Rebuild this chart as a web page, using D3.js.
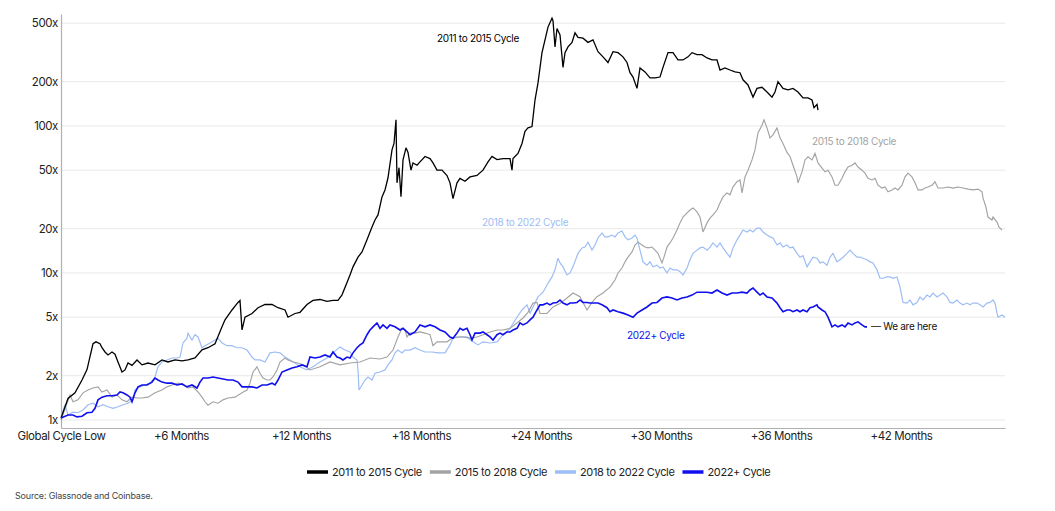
<!DOCTYPE html>
<html>
<head>
<meta charset="utf-8">
<script src="https://cdn.jsdelivr.net/npm/d3@7"></script>
<style>
  body { margin: 0; background: #fff; }
  svg { font-family: Inter, "Noto Sans", sans-serif; }
</style>
</head>
<body>
<div id="chart"></div>
<script>
var width = 1055,
    height = 511;
var margin = {top: 14, right: 50, bottom: 83, left: 61};

// months since the global cycle low, and the multiple of the low price
var yTicks = [1, 2, 5, 10, 20, 50, 100, 200, 500];
var xTicks = [0, 6, 12, 18, 24, 30, 36, 42];
var xTickLabels = ["Global Cycle Low", "+6 Months", "+12 Months", "+18 Months",
  "+24 Months", "+30 Months", "+36 Months", "+42 Months"];

var seriesNames = ["2011 to 2015 Cycle", "2015 to 2018 Cycle", "2018 to 2022 Cycle", "2022+ Cycle"];
var seriesColors = ["#000000", "#a3a3a3", "#9dbdf5", "#1010ee"];

var cycle2011 = [[0,1.03],[0.35,1.4],[0.7,1.53],[1.05,1.87],[1.3,2.2],[1.45,2.7],[1.6,3.3],[1.75,3.4],[1.95,3.3],[2.05,3.1],[2.2,2.9],[2.35,2.77],[2.55,2.9],[2.7,2.8],[2.85,2.48],[3.05,2.12],[3.2,2.19],[3.35,2.44],[3.55,2.35],[3.8,2.56],[4.05,2.37],[4.35,2.44],[4.7,2.37],[5.05,2.56],[5.35,2.48],[5.7,2.56],[6.05,2.52],[6.35,2.56],[6.7,2.64],[7.05,3.0],[7.35,3.1],[7.7,3.3],[7.85,3.7],[8.05,4.3],[8.2,4.8],[8.55,5.6],[8.85,6.3],[8.95,6.5],[9.05,4.1],[9.2,5.0],[9.55,5.3],[9.85,5.8],[10.2,6.1],[10.55,6.1],[10.85,5.8],[11.2,5.6],[11.35,5.0],[11.7,5.3],[11.95,5.4],[12.3,6.1],[12.6,6.5],[12.95,6.6],[13.3,6.4],[13.6,6.5],[13.85,6.5],[14.05,7.1],[14.3,8.6],[14.45,9.7],[14.6,11],[14.85,12.8],[15.05,13.9],[15.3,16.8],[15.55,20.5],[15.7,22.9],[15.85,24.8],[16.05,32.9],[16.2,36.7],[16.35,44.4],[16.55,68.7],[16.65,76],[16.75,110],[16.8,41],[16.9,52],[17.0,33],[17.1,58.7],[17.25,71],[17.35,66],[17.5,50],[17.6,56],[17.8,54],[17.95,57],[18.2,62],[18.45,60],[18.6,56],[18.8,50],[19.05,50],[19.3,46],[19.45,41],[19.6,32],[19.8,41],[19.95,44],[20.2,42],[20.45,45],[20.8,46],[21.1,50],[21.35,57],[21.55,62],[21.8,59],[22.1,60],[22.45,60],[22.55,50],[22.6,60],[22.85,65],[23.05,76],[23.2,92],[23.35,97],[23.55,99],[23.7,150],[23.85,196],[24.05,315],[24.2,385],[24.35,470],[24.55,540],[24.6,520],[24.7,345],[24.8,460],[24.95,415],[25.1,250],[25.2,315],[25.35,345],[25.55,370],[25.7,430],[25.85,400],[26.1,395],[26.35,370],[26.6,385],[26.85,320],[27.1,295],[27.35,270],[27.6,320],[27.85,315],[28.1,295],[28.3,270],[28.45,230],[28.6,215],[28.8,180],[28.95,248],[29.2,233],[29.45,212],[29.7,212],[29.95,215],[30.1,250],[30.35,315],[30.6,315],[30.85,281],[31.1,281],[31.35,295],[31.55,315],[31.8,305],[32.05,305],[32.3,290],[32.55,281],[32.8,281],[32.95,240],[33.2,248],[33.45,240],[33.7,233],[33.95,230],[34.1,206],[34.35,190],[34.6,157],[34.8,180],[35.05,183],[35.3,170],[35.55,157],[35.7,170],[35.85,200],[36.1,180],[36.35,176],[36.6,180],[36.85,170],[37.1,155],[37.35,155],[37.55,150],[37.65,133],[37.8,140],[37.85,128]];

var cycle2015 = [[0,1.0],[0.3,1.3],[0.45,1.48],[0.6,1.33],[0.85,1.37],[1.1,1.53],[1.35,1.6],[1.6,1.65],[1.85,1.68],[2.05,1.55],[2.3,1.6],[2.55,1.43],[2.8,1.48],[3.05,1.37],[3.3,1.33],[3.55,1.43],[3.8,1.41],[4.05,1.41],[4.35,1.43],[4.7,1.53],[5.05,1.6],[5.3,1.68],[5.55,1.73],[5.85,1.78],[6.1,1.73],[6.35,1.65],[6.6,1.68],[6.85,1.55],[7.05,1.43],[7.2,1.33],[7.35,1.26],[7.6,1.33],[7.85,1.3],[8.1,1.37],[8.35,1.41],[8.7,1.43],[9.05,1.53],[9.3,1.6],[9.45,1.78],[9.6,2.12],[9.8,2.3],[9.95,2.08],[10.1,1.93],[10.3,1.87],[10.45,1.87],[10.6,1.96],[10.8,2.19],[10.95,2.48],[11.2,2.64],[11.35,2.56],[11.6,2.48],[11.85,2.44],[12.1,2.37],[12.45,2.19],[12.95,2.3],[13.45,2.48],[13.95,2.37],[14.45,2.44],[14.95,2.48],[15.45,2.64],[15.95,2.6],[16.3,2.68],[16.6,2.99],[16.85,3.67],[17.05,4.2],[17.2,4.09],[17.3,3.67],[17.45,3.9],[17.7,3.9],[17.95,3.97],[18.2,3.9],[18.45,3.8],[18.6,3.2],[18.8,3.4],[19.05,3.4],[19.3,3.4],[19.55,3.6],[19.8,3.67],[20.1,3.67],[20.45,3.6],[20.8,3.67],[21.1,3.8],[21.45,3.97],[21.8,4.09],[22.1,4.09],[22.45,4.2],[22.8,4.57],[23.1,4.94],[23.35,5.4],[23.6,6.24],[23.8,6.3],[23.95,5.3],[24.3,5.3],[24.6,5.87],[24.95,6.2],[25.3,6.75],[25.6,7.3],[25.95,6.9],[26.1,6.3],[26.3,5.6],[26.55,6.3],[26.8,6.9],[27.1,7.3],[27.45,8.0],[27.7,8.96],[27.85,10],[28.05,10.8],[28.2,11.9],[28.35,12.8],[28.55,13.9],[28.7,15.5],[28.85,16.2],[29.05,15.5],[29.2,15],[29.35,14.8],[29.55,15],[29.7,14.3],[29.85,13.6],[30.05,11.7],[30.15,12.8],[30.3,15],[30.45,16],[30.6,17.3],[30.8,19.6],[30.95,21.9],[31.1,24],[31.3,25.6],[31.45,26.8],[31.6,27.7],[31.8,26],[31.95,24],[32.1,19],[32.3,21.9],[32.45,23.6],[32.6,24.8],[32.8,26.8],[32.95,29.9],[33.1,32.9],[33.3,35],[33.45,34],[33.6,38.5],[33.8,41.7],[33.95,42.9],[34.05,35],[34.2,45],[34.35,50],[34.55,58.7],[34.7,68.7],[34.85,89.5],[35.05,101],[35.15,110],[35.3,97],[35.45,83],[35.6,87],[35.8,97],[35.95,83],[36.1,76],[36.3,66],[36.45,62],[36.6,54],[36.8,45],[36.85,41],[37.05,48.7],[37.2,58.7],[37.35,61.6],[37.55,58.7],[37.7,65],[37.85,56],[38.05,51.7],[38.2,48.7],[38.35,50],[38.55,45],[38.7,39.5],[38.85,39.5],[39.05,44],[39.2,48.7],[39.35,52.5],[39.55,54],[39.7,56],[39.85,52.5],[40.05,50],[40.2,47.7],[40.35,44],[40.55,42.9],[40.7,44],[40.85,39.5],[41.05,37.8],[41.2,38.4],[41.35,35.6],[41.55,36.7],[41.7,37.8],[41.85,36.7],[42.05,39.5],[42.2,45],[42.35,47.7],[42.55,45],[42.7,41],[42.85,36.7],[43.05,36.7],[43.2,37.8],[43.35,38.4],[43.55,39.5],[43.7,41.7],[43.85,37.8],[44.1,37.8],[44.35,38.4],[44.6,37.8],[44.85,38.4],[45.1,37.8],[45.35,37.2],[45.6,36.7],[45.85,37.2],[46.05,35.6],[46.1,32.4],[46.25,28],[46.35,24],[46.55,22.9],[46.6,24],[46.8,22.2],[46.9,20.5],[47.05,19.6]];

var cycle2018 = [[0,1.05],[0.2,1.27],[0.35,1.08],[0.6,1.13],[0.85,1.12],[1.1,1.17],[1.35,1.27],[1.6,1.3],[1.85,1.23],[2.1,1.27],[2.35,1.23],[2.6,1.2],[2.85,1.23],[3.1,1.27],[3.35,1.3],[3.6,1.37],[3.7,1.6],[3.95,1.68],[4.2,1.73],[4.45,1.78],[4.7,1.96],[4.85,2.3],[5.05,2.48],[5.3,2.56],[5.55,2.64],[5.8,2.64],[5.95,2.68],[6.1,3.34],[6.3,3.6],[6.35,3.9],[6.55,3.5],[6.7,3.8],[6.85,3.67],[7.05,3.1],[7.2,3.2],[7.45,3.34],[7.7,3.5],[7.85,3.6],[8.05,3.34],[8.3,3.2],[8.55,3.2],[8.8,3.1],[9.05,3.1],[9.3,2.99],[9.55,2.68],[9.7,2.56],[9.95,2.56],[10.2,2.48],[10.45,2.86],[10.7,2.9],[10.95,2.86],[11.2,2.68],[11.45,2.56],[11.7,2.44],[11.95,2.3],[12.3,2.19],[12.6,2.3],[12.95,2.48],[13.3,2.64],[13.6,2.86],[13.95,3.14],[14.2,2.99],[14.45,2.9],[14.6,2.68],[14.8,2.56],[14.85,2.19],[14.9,1.6],[15.05,1.73],[15.2,1.87],[15.35,1.96],[15.55,1.87],[15.7,2.08],[15.95,2.12],[16.2,2.19],[16.35,2.37],[16.55,2.56],[16.7,2.86],[16.85,2.99],[17.05,2.86],[17.2,2.99],[17.45,2.99],[17.7,3.1],[17.95,2.99],[18.2,2.9],[18.55,2.9],[18.85,2.86],[19.2,2.86],[19.45,3.24],[19.6,3.6],[19.95,3.67],[20.3,3.67],[20.6,3.4],[20.85,3.24],[21.1,3.4],[21.45,3.34],[21.8,3.4],[22.1,3.8],[22.45,4.2],[22.8,5.0],[23.05,5.6],[23.3,6.07],[23.45,5.33],[23.6,5.87],[23.85,6.87],[24.1,7.4],[24.35,8.5],[24.55,9.4],[24.7,10.5],[24.85,12.6],[24.95,11.7],[25.1,11],[25.3,9.7],[25.45,10],[25.6,11],[25.85,13.6],[26.05,14.8],[26.2,15],[26.35,16.2],[26.55,14.3],[26.7,15.5],[26.85,17.3],[27.05,18.7],[27.2,17.6],[27.35,17.6],[27.55,18.1],[27.7,17.6],[27.85,18.7],[28.05,19.3],[28.2,17.6],[28.35,16.8],[28.55,17.3],[28.7,18.1],[28.8,17.3],[28.95,14.3],[29.1,11.9],[29.3,11.3],[29.45,11.9],[29.6,11],[29.8,11.3],[29.95,10.8],[30.1,11],[30.3,10],[30.45,10.8],[30.6,10.5],[30.8,10.5],[30.95,10.2],[31.1,9.7],[31.3,10.8],[31.45,12.3],[31.6,13.6],[31.8,14.3],[31.95,14.8],[32.1,15],[32.3,14.3],[32.45,15],[32.6,16],[32.8,15],[32.95,16],[33.1,14.8],[33.3,13.6],[33.45,12.8],[33.6,14.8],[33.8,16.8],[33.95,18.1],[34.1,19.6],[34.3,19],[34.45,19.6],[34.6,19],[34.8,20.2],[34.95,20.2],[35.1,19],[35.3,18.1],[35.45,17.6],[35.6,17.3],[35.8,15.5],[35.95,16],[36.1,15],[36.3,15.5],[36.45,14.8],[36.6,15],[36.8,13.6],[36.95,12.8],[37.1,13.1],[37.3,11],[37.45,11.9],[37.6,12.8],[37.8,12.6],[37.95,11.7],[38.1,11.9],[38.3,11.3],[38.45,12.8],[38.6,13.6],[38.8,11.9],[38.95,12.3],[39.1,12.8],[39.3,13.6],[39.45,14.3],[39.6,13.6],[39.8,12.8],[39.95,12.8],[40.1,12.6],[40.3,12.3],[40.45,11.9],[40.6,11.7],[40.8,10.5],[40.95,9.2],[41.1,9.2],[41.3,9.4],[41.45,9.4],[41.6,9.2],[41.8,9.4],[41.95,8.0],[42.1,6.3],[42.3,6.24],[42.45,6.55],[42.6,6.07],[42.8,6.3],[42.95,6.87],[43.1,6.55],[43.3,7.07],[43.45,6.87],[43.6,7.3],[43.8,6.87],[43.95,7.07],[44.1,7.3],[44.3,6.87],[44.45,6.3],[44.6,6.24],[44.8,6.55],[44.95,6.24],[45.1,6.07],[45.3,6.24],[45.45,6.07],[45.6,6.24],[45.8,6.24],[45.95,6.07],[46.1,5.87],[46.3,6.24],[46.45,6.3],[46.6,6.55],[46.7,6.24],[46.8,5.33],[46.85,5.0],[47.05,5.18],[47.2,5.0]];

var cycle2022 = [[0,1.03],[0.35,1.08],[0.6,1.08],[0.8,1.05],[1.05,1.06],[1.3,1.12],[1.55,1.13],[1.7,1.2],[1.85,1.37],[2.05,1.43],[2.3,1.46],[2.55,1.46],[2.8,1.48],[2.95,1.55],[3.1,1.53],[3.3,1.48],[3.45,1.43],[3.55,1.33],[3.7,1.53],[3.85,1.68],[4.05,1.73],[4.3,1.73],[4.55,1.81],[4.7,1.93],[4.85,1.87],[5.05,1.81],[5.3,1.78],[5.55,1.78],[5.8,1.73],[6.05,1.76],[6.3,1.68],[6.55,1.73],[6.8,1.65],[6.95,1.81],[7.1,1.93],[7.35,1.93],[7.6,1.96],[7.85,1.93],[8.1,1.9],[8.35,1.87],[8.6,1.87],[8.85,1.81],[9.05,1.68],[9.3,1.68],[9.55,1.68],[9.8,1.65],[10.05,1.73],[10.3,1.73],[10.55,1.78],[10.7,1.73],[10.85,1.87],[11.05,2.12],[11.3,2.19],[11.55,2.26],[11.8,2.3],[12.05,2.37],[12.3,2.3],[12.45,2.68],[12.7,2.64],[12.95,2.68],[13.2,2.77],[13.45,2.68],[13.6,2.9],[13.8,2.68],[13.95,2.64],[14.1,2.56],[14.3,2.68],[14.45,2.64],[14.6,2.86],[14.8,3.1],[14.95,3.24],[15.1,3.34],[15.3,3.8],[15.45,4.09],[15.6,4.3],[15.8,4.57],[15.95,4.2],[16.1,4.43],[16.3,4.2],[16.45,4.43],[16.7,4.3],[16.95,4.09],[17.1,4.2],[17.3,3.97],[17.45,3.8],[17.7,3.97],[17.95,4.43],[18.2,4.3],[18.45,4.43],[18.7,4.3],[18.95,4.09],[19.2,3.97],[19.45,3.67],[19.6,3.6],[19.8,3.9],[19.95,4.2],[20.1,4.09],[20.3,4.2],[20.45,3.8],[20.55,3.5],[20.7,3.9],[20.95,3.9],[21.1,3.97],[21.3,3.8],[21.45,3.67],[21.6,3.5],[21.8,3.8],[21.95,3.9],[22.1,3.8],[22.3,3.97],[22.45,3.97],[22.6,4.09],[22.8,4.2],[22.95,4.57],[23.1,4.43],[23.3,4.57],[23.45,4.79],[23.6,5.0],[23.8,5.6],[23.95,6.07],[24.1,6.07],[24.3,6.24],[24.45,6.07],[24.6,6.24],[24.8,6.3],[24.95,6.55],[25.1,6.24],[25.3,6.07],[25.45,6.24],[25.6,6.24],[25.8,6.3],[25.95,6.55],[26.1,6.3],[26.3,6.3],[26.45,6.24],[26.6,6.24],[26.85,6.24],[27.05,6.07],[27.3,5.8],[27.45,5.45],[27.6,5.6],[27.85,5.45],[28.1,5.33],[28.35,5.18],[28.6,5.0],[28.8,5.33],[29.05,5.6],[29.3,5.87],[29.55,6.24],[29.8,6.3],[30.05,6.75],[30.3,6.87],[30.55,6.75],[30.8,6.55],[31.05,6.75],[31.3,6.87],[31.55,7.07],[31.8,7.4],[32.05,7.4],[32.3,7.4],[32.55,7.3],[32.8,7.66],[33.05,7.3],[33.3,7.07],[33.55,7.3],[33.8,7.3],[34.05,7.4],[34.3,7.3],[34.45,7.66],[34.6,7.9],[34.8,7.4],[34.95,7.07],[35.1,7.3],[35.3,6.87],[35.55,6.75],[35.8,6.24],[35.95,5.8],[36.1,5.45],[36.3,5.6],[36.45,5.6],[36.6,5.45],[36.8,5.6],[36.95,5.45],[37.1,5.6],[37.3,5.45],[37.45,5.8],[37.6,5.87],[37.8,6.07],[37.85,5.87],[38.05,5.6],[38.2,5.45],[38.35,5.0],[38.55,4.3],[38.7,4.43],[38.85,4.3],[39.05,4.43],[39.2,4.3],[39.35,4.57],[39.55,4.43],[39.7,4.57],[39.85,4.65],[40.05,4.43],[40.2,4.3],[40.3,4.3]];

// in-chart annotations: [text, month, multiple, series index or -1]
var annotations = [
  ["2011 to 2015 Cycle", 18.8, 391, 0],
  ["2015 to 2018 Cycle", 37.55, 77.8, 1],
  ["2018 to 2022 Cycle", 21.05, 21.9, 2],
  ["2022+ Cycle", 28.3, 3.73, 3],
  ["\u2014 We are here", 40.5, 4.29, -1]
];

var allSeries = [cycle2011, cycle2015, cycle2018, cycle2022];
var drawOrder = [2, 1, 0, 3];

var svg = d3.select("#chart").append("svg")
  .attr("width", width)
  .attr("height", height);

var x = d3.scaleLinear()
  .domain([0, 47.2])
  .range([margin.left, width - margin.right]);

var y = d3.scaleLog()
  .domain([0.882, 577])
  .range([height - margin.bottom, margin.top]);

// grid
svg.append("g")
  .selectAll("line")
  .data(yTicks)
  .enter().append("line")
  .attr("x1", margin.left)
  .attr("x2", width - margin.right)
  .attr("y1", function(d) { return y(d); })
  .attr("y2", function(d) { return y(d); })
  .attr("stroke", "#e8e8e8")
  .attr("stroke-width", 1);

// y axis
var yAxis = svg.append("g")
  .attr("transform", "translate(" + margin.left + ",0)")
  .call(d3.axisLeft(y).tickValues(yTicks).tickFormat(function(d) { return d + "x"; }).tickSize(0).tickPadding(3));
yAxis.select(".domain").attr("stroke", "#b0b0b0").attr("stroke-width", 1.2);
yAxis.selectAll("text").attr("fill", "#222").attr("font-size", 11.5).attr("font-family", "Inter, sans-serif").style("letter-spacing", "-0.4px");

// x axis
var xAxis = svg.append("g")
  .attr("transform", "translate(0," + (height - margin.bottom) + ")")
  .call(d3.axisBottom(x).tickValues(xTicks).tickFormat(function(d, i) { return xTickLabels[i]; }).tickSize(0).tickPadding(4));
xAxis.select(".domain").attr("stroke", "#b0b0b0").attr("stroke-width", 1.2);
xAxis.selectAll("text").attr("fill", "#222").attr("font-size", 11.5).attr("font-family", "Inter, sans-serif").style("letter-spacing", "-0.4px");

// lines
var line = d3.line()
  .x(function(d) { return x(d[0]); })
  .y(function(d) { return y(d[1]); });

var widths = [1.3, 1.15, 1.2, 1.6];
drawOrder.forEach(function(i) {
  svg.append("path")
    .datum(allSeries[i])
    .attr("fill", "none")
    .attr("stroke", seriesColors[i])
    .attr("stroke-width", widths[i])
    .attr("stroke-linejoin", "miter")
    .attr("stroke-miterlimit", 3)
    .attr("d", line);
});

// annotations
svg.append("g")
  .selectAll("text")
  .data(annotations)
  .enter().append("text")
  .attr("x", function(d) { return x(d[1]); })
  .attr("y", function(d) { return y(d[2]); })
  .attr("dy", "0.35em")
  .attr("font-size", 10)
  .style("letter-spacing", "-0.3px")
  .attr("fill", function(d) { return d[3] < 0 ? "#111" : seriesColors[d[3]]; })
  .text(function(d) { return d[0]; });

// legend
var legend = svg.append("g").attr("transform", "translate(0,472)");
var lx = 307;
seriesNames.forEach(function(name, i) {
  legend.append("line")
    .attr("x1", lx).attr("x2", lx + 21)
    .attr("y1", 0).attr("y2", 0)
    .attr("stroke", seriesColors[i])
    .attr("stroke-width", 3.5);
  var t = legend.append("text")
    .attr("x", lx + 25)
    .attr("y", 0)
    .attr("dy", "0.35em")
    .attr("font-size", 11)
    .style("letter-spacing", "-0.35px")
    .attr("fill", "#222")
    .text(name);
  lx += 25 + t.node().getComputedTextLength() + 8;
});

svg.append("text")
  .attr("x", 15)
  .attr("y", 496)
  .attr("dy", "0.35em")
  .attr("font-size", 9)
  .style("letter-spacing", "-0.2px")
  .attr("fill", "#444")
  .text("Source: Glassnode and Coinbase.");
</script>
</body>
</html>
